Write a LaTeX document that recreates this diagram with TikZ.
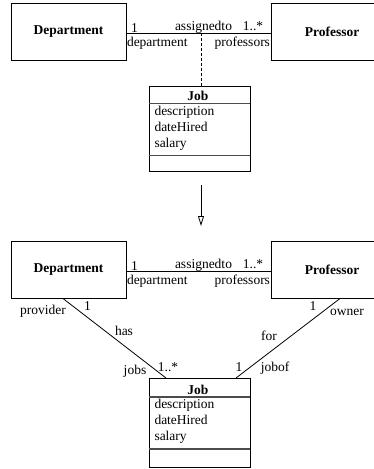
\documentclass[tikz,border=0pt]{standalone}
\usepackage{fontspec}
\setmainfont{Liberation Serif}
\usetikzlibrary{arrows.meta}
\begin{document}
\begin{tikzpicture}[x=1pt,y=-1pt,
  every node/.style={inner sep=0pt, outer sep=0pt, font=\fontsize{13.5}{16}\selectfont},
  classbox/.style={draw, line width=0.9pt, font=\fontsize{13.5}{16}\selectfont\bfseries,
                   minimum width=115pt, minimum height=57pt},
  jobframe/.style={draw, line width=0.9pt, minimum width=101pt},
  jobtitle/.style={anchor=base, font=\fontsize{13.5}{16}\selectfont\bfseries},
  lbl/.style={anchor=base},
  attr/.style={anchor=base west},
  sepline/.style={line width=1.6pt, black!70},
  assoc/.style={line width=0.8pt}
]
\useasboundingbox (0,0) rectangle (374,469);
\clip (0,0) rectangle (374,469);

% ---------- upper model: association class ----------
\node[classbox] (dep1) at (68.5,32) {Department};
\node[classbox, minimum width=122pt] (prof1) at (332,32) {Professor};
\draw[assoc] ([yshift=-1pt]dep1.east) -- ([yshift=-1pt]prof1.west);

\node[lbl] (m1a) at (134.5,32.5) {1};
\node[lbl] (n1a) at (203.5,30) {assignedto};
\node[lbl] (m1b) at (253,30) {1..*};
\node[anchor=base west] (r1a) at (127,46) {department};
\node[anchor=base east] (r1b) at (270,46) {professors};

\node[jobframe, minimum height=85pt] (job1) at (199.5,128.5) {};
\coordinate (mid1) at (201,33);
\draw[line width=0.8pt, dash pattern=on 3pt off 2pt] (mid1) -- (mid1 |- job1.north);
\node[jobtitle] (job1t) at (198,100) {Job};
\draw[sepline] (job1.west |- 0,103.3) -- (job1.east |- 0,103.3);
\node[attr] (job1a) at (154.5,115.5) {description};
\node[attr] (job1b) at (154.5,131.5) {dateHired};
\node[attr] (job1c) at (154.5,147.5) {salary};
\draw[sepline] (job1.west |- 0,155.5) -- (job1.east |- 0,155.5);

% ---------- transformation arrow ----------
\coordinate (arrowtop) at (201,185);
\coordinate (arrowtip) at (201,226);
\draw[line width=0.8pt, -{Triangle[open,length=10pt,width=6pt]}] (arrowtop) -- (arrowtip);

% ---------- lower model: promoted class ----------
\node[classbox] (dep2) at (68.5,270) {Department};
\node[classbox, minimum width=122pt] (prof2) at (332,270) {Professor};
\draw[assoc] ([yshift=-1pt]dep2.east) -- ([yshift=-1pt]prof2.west);

\node[lbl] (m2a) at (134.5,270.5) {1};
\node[lbl] (n2a) at (203.5,268) {assignedto};
\node[lbl] (m2b) at (253,268) {1..*};
\node[anchor=base west] (r2a) at (127,284) {department};
\node[anchor=base east] (r2b) at (270,284) {professors};

\node[jobframe, minimum height=89pt] (job2) at (199.5,422.5) {};
\node[jobtitle] (job2t) at (198,394) {Job};
\draw[sepline] (job2.west |- 0,396.7) -- (job2.east |- 0,396.7);
\node[attr] (job2a) at (154.5,408.7) {description};
\node[attr] (job2b) at (154.5,424.7) {dateHired};
\node[attr] (job2c) at (154.5,440.7) {salary};
\draw[sepline] (job2.west |- 0,449) -- (job2.east |- 0,449);

\draw[assoc] ([xshift=-5.5pt]dep2.south) -- ([xshift=-33.5pt]job2.north);
\draw[assoc] ([xshift=8pt]prof2.south) -- ([xshift=36.5pt]job2.north);

\node[lbl] (l1) at (43,314) {provider};
\node[lbl] (l2) at (87.5,310) {1};
\node[lbl] (l3) at (124,335) {has};
\node[lbl] (l4) at (135,374) {jobs};
\node[lbl] (l5) at (168,371) {1..*};
\node[lbl] (l6) at (239,371) {1};
\node[lbl] (l7) at (275,371) {jobof};
\node[lbl] (l8) at (269,340) {for};
\node[lbl] (l9) at (313,310) {1};
\node[lbl] (l10) at (347,315) {owner};
\end{tikzpicture}
\end{document}
